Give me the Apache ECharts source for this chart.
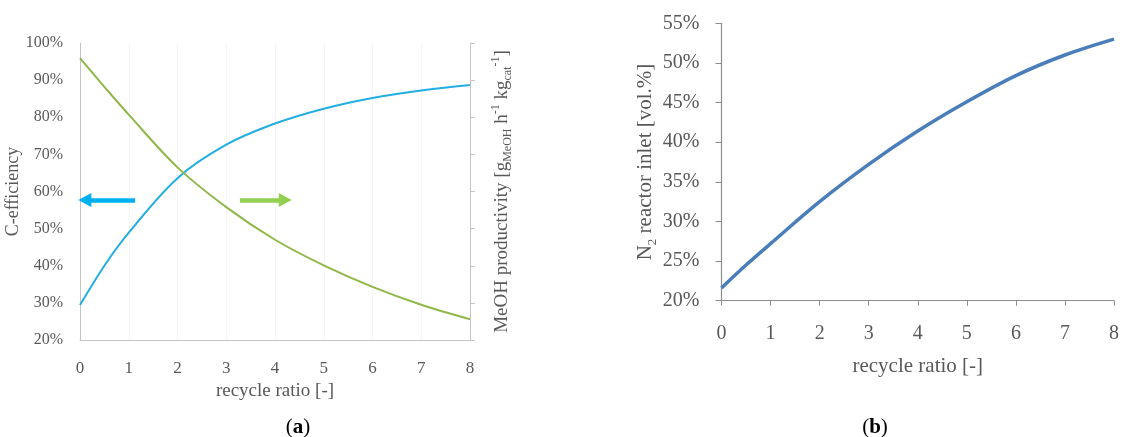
<!DOCTYPE html>
<html>
<head>
<meta charset="utf-8">
<script src="https://cdn.jsdelivr.net/npm/echarts@6/dist/echarts.min.js"></script>
<style>
  html, body { margin: 0; padding: 0; background: #fff; }
  #chart { width: 1122px; height: 437px; }
</style>
</head>
<body>
<div id="chart"></div>
<script>
// recycle ratio [-]
const ratio = [0, 0.5, 1, 2, 3, 4, 5, 6, 7, 8];
// (a) C-efficiency, left axis [%]
const cEfficiency = [29.4, 40.0, 48.9, 63.6, 72.6, 78.3, 82.3, 85.2, 87.2, 88.7];
// (a) MeOH productivity, right axis (unlabelled scale, same 20–100 span)
const meohProductivity = [95.9, 88.2, 80.7, 66.5, 55.8, 47.0, 40.1, 34.3, 29.5, 25.6];
// (b) N2 at reactor inlet [vol.%]
const n2Inlet = [21.6, 24.5, 27.2, 32.5, 37.2, 41.4, 45.1, 48.4, 51.0, 53.0];

// arrows telling which curve belongs to which axis (x from, x to, y)
const blueArrow = [1.13, 0.1, 57.7];
const greenArrow = [3.28, 4.21, 57.7];

const pair = (ys) => ratio.map((x, i) => [x, ys[i]]);

const SERIF = '"Liberation Serif", "DejaVu Serif", serif';
const GREY = '#595959';

const subSup = {
  s: { fontSize: 12, lineHeight: 12, verticalAlign: 'bottom', fontFamily: SERIF, color: GREY },
  p: { fontSize: 12, lineHeight: 12, verticalAlign: 'top', fontFamily: SERIF, color: GREY }
};

const chart = echarts.init(document.getElementById('chart'), null, { renderer: 'canvas' });

chart.setOption({
  animation: false,
  backgroundColor: '#ffffff',
  title: [
    {
      text: '({b|a})', left: 293, top: 412, textAlign: 'center',
      textStyle: { fontFamily: SERIF, fontSize: 21, fontWeight: 'normal', color: '#000',
        rich: { b: { fontFamily: SERIF, fontSize: 21, fontWeight: 'bold', color: '#000' } } }
    },
    {
      text: '({b|b})', left: 870, top: 412, textAlign: 'center',
      textStyle: { fontFamily: SERIF, fontSize: 21, fontWeight: 'normal', color: '#000',
        rich: { b: { fontFamily: SERIF, fontSize: 21, fontWeight: 'bold', color: '#000' } } }
    }
  ],
  grid: [
    { left: 80, top: 43, width: 390, height: 297 },
    { left: 721.5, top: 23.3, width: 393.5, height: 277.4 }
  ],
  xAxis: [
    {
      gridIndex: 0, type: 'value', min: 0, max: 8, interval: 1,
      name: 'recycle ratio [-]', nameLocation: 'middle', nameGap: 40,
      nameTextStyle: { fontFamily: SERIF, fontSize: 19, color: GREY },
      axisLine: { lineStyle: { color: '#c4c4c4', width: 1 } },
      axisTick: { show: false },
      axisLabel: { fontFamily: SERIF, fontSize: 17, color: GREY, margin: 20 },
      splitLine: { show: true, lineStyle: { color: '#f6f6f6', width: 1 } }
    },
    {
      gridIndex: 1, type: 'value', min: 0, max: 8, interval: 1,
      name: 'recycle ratio [-]', nameLocation: 'middle', nameGap: 55,
      nameTextStyle: { fontFamily: SERIF, fontSize: 21, color: GREY },
      axisLine: { lineStyle: { color: '#8c8c8c', width: 1.2 } },
      axisTick: { show: true, length: 5, inside: false, lineStyle: { color: '#8c8c8c' } },
      axisLabel: { fontFamily: SERIF, fontSize: 20, color: GREY, margin: 23 },
      splitLine: { show: false }
    }
  ],
  yAxis: [
    {
      gridIndex: 0, type: 'value', min: 20, max: 100, interval: 10, position: 'left',
      name: 'C-efficiency', nameLocation: 'middle', nameGap: 50, nameRotate: 90,
      nameTextStyle: { fontFamily: SERIF, fontSize: 18, color: GREY },
      axisLine: { show: true, lineStyle: { color: '#c4c4c4', width: 1 } },
      axisTick: { show: false },
      axisLabel: { fontFamily: SERIF, fontSize: 16, color: GREY, margin: 17, formatter: '{value}%' },
      splitLine: { show: false }
    },
    {
      gridIndex: 0, type: 'value', min: 20, max: 100, interval: 10, position: 'right',
      name: 'MeOH productivity [g{s|MeOH} h{p|-1} kg{s|cat}{p|-1}]',
      nameLocation: 'middle', nameGap: 20, nameRotate: 90,
      nameTextStyle: { fontFamily: SERIF, fontSize: 19, lineHeight: 24, color: GREY, rich: subSup },
      axisLine: { show: true, lineStyle: { color: '#c4c4c4', width: 1 } },
      axisTick: { show: true, length: 5, inside: false, lineStyle: { color: '#c4c4c4' } },
      axisLabel: { show: false },
      splitLine: { show: false }
    },
    {
      gridIndex: 1, type: 'value', min: 20, max: 55, interval: 5,
      name: 'N{s|2} reactor inlet [vol.%]', nameLocation: 'middle', nameGap: 62, nameRotate: 90,
      nameTextStyle: { fontFamily: SERIF, fontSize: 21, lineHeight: 26, color: GREY,
        rich: { s: { fontSize: 13, lineHeight: 13, verticalAlign: 'bottom', fontFamily: SERIF, color: GREY } } },
      axisLine: { show: true, lineStyle: { color: '#8c8c8c', width: 1.2 } },
      axisTick: { show: true, length: 6, inside: false, lineStyle: { color: '#8c8c8c' } },
      axisLabel: { fontFamily: SERIF, fontSize: 20, color: GREY, margin: 22, formatter: '{value}%' },
      splitLine: { show: false }
    }
  ],
  series: [
    {
      name: 'C-efficiency', type: 'line', xAxisIndex: 0, yAxisIndex: 0,
      data: pair(cEfficiency), smooth: 0.35, showSymbol: false,
      lineStyle: { color: '#22aee2', width: 2 },
      markLine: {
        silent: true, symbol: ['none', 'triangle'], symbolSize: [14, 13],
        label: { show: false },
        lineStyle: { color: '#00b0f0', width: 4.5, type: 'solid' },
        data: [[{ coord: [blueArrow[0], blueArrow[2]] }, { coord: [blueArrow[1], blueArrow[2]] }]]
      }
    },
    {
      name: 'MeOH productivity', type: 'line', xAxisIndex: 0, yAxisIndex: 1,
      data: pair(meohProductivity), smooth: 0.35, showSymbol: false,
      lineStyle: { color: '#8fb84a', width: 2 },
      markLine: {
        silent: true, symbol: ['none', 'triangle'], symbolSize: [14, 13],
        label: { show: false },
        lineStyle: { color: '#92d050', width: 4.5, type: 'solid' },
        data: [[{ coord: [greenArrow[0], greenArrow[2]] }, { coord: [greenArrow[1], greenArrow[2]] }]]
      }
    },
    {
      name: 'N2 reactor inlet', type: 'line', xAxisIndex: 1, yAxisIndex: 2,
      data: pair(n2Inlet), smooth: 0.35, showSymbol: false,
      lineStyle: { color: '#4a7ebb', width: 3.5 }
    }
  ]
});
</script>
</body>
</html>
